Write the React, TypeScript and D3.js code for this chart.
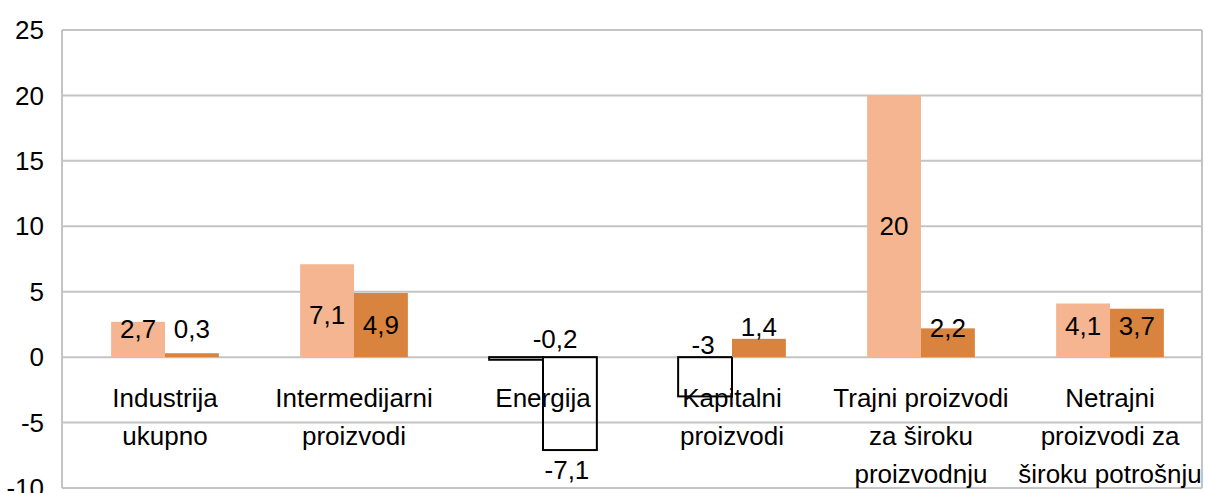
import React from "react";
import * as d3 from "d3";

const categories = [
  ["Industrija", "ukupno"],
  ["Intermedijarni", "proizvodi"],
  ["Energija"],
  ["Kapitalni", "proizvodi"],
  ["Trajni proizvodi", "za široku", "proizvodnju"],
  ["Netrajni", "proizvodi za", "široku potrošnju"],
];
const lightValues = [2.7, 7.1, -0.2, -3, 20, 4.1];
const darkValues = [0.3, 4.9, -7.1, 1.4, 2.2, 3.7];
const yTicks = [-10, -5, 0, 5, 10, 15, 20, 25];

// where each data label sits, in value units (hand placed like the source)
const lightLabelAt = [2.14, 3.2, 1.37, 0.92, 10, 2.37];
const darkLabelAt = [2.14, 2.45, -8.63, 2.3, 2.2, 2.37];
const lightLabelShift = [0, 0, 39, -2, 0, 0];
const darkLabelShift = [0, 0, -3, 0, 0, 0];

const W = 1205;
const H = 493;
const frame = { left: 62, right: 1202, top: 30, bottom: 488 };
const lightColor = "#F5B590";
const darkColor = "#D9843E";
const font = "'Liberation Sans Narrow', 'Liberation Sans', sans-serif";
const fmt = (v: number) => String(v).replace(".", ",");

export default function App() {
  const y = d3.scaleLinear().domain([-10, 25]).range([frame.bottom, frame.top]);
  const x0 = d3
    .scaleBand<number>()
    .domain(d3.range(categories.length))
    .range([70.5, 1204.5])
    .paddingInner(0.43)
    .paddingOuter(0.215);
  const x1 = d3
    .scaleBand<string>()
    .domain(["light", "dark"])
    .range([0, x0.bandwidth()]);

  // negative bars are drawn as outlines only, as in the source
  const bar = (i: number, key: string, v: number, color: string) => {
    const neg = v < 0;
    return (
      <rect
        key={key + i}
        x={(x0(i) ?? 0) + (x1(key) ?? 0)}
        y={Math.min(y(v), y(0))}
        width={x1.bandwidth()}
        height={Math.abs(y(v) - y(0))}
        fill={neg ? "none" : color}
        stroke={neg ? "#000000" : "none"}
        strokeWidth={neg ? 2 : 0}
      />
    );
  };

  const label = (i: number, key: string, v: number, at: number, dx: number) => (
    <text
      key={"l" + key + i}
      x={(x0(i) ?? 0) + (x1(key) ?? 0) + x1.bandwidth() / 2 + dx}
      y={y(at)}
      dy="0.35em"
      textAnchor="middle"
      fontSize={26}
      fill="#000"
    >
      {fmt(v)}
    </text>
  );

  return (
    <svg
      width={W}
      height={H}
      style={{ position: "absolute", left: 0, top: 0, background: "#fff" }}
      fontFamily={font}
    >
      <rect width={W} height={H} fill="#fff" />
      {yTicks.map(t => (
        <g key={t}>
          <line
            x1={frame.left}
            x2={frame.right}
            y1={y(t)}
            y2={y(t)}
            stroke="#C4C4C4"
            strokeWidth={2}
          />
          <text
            x={44}
            y={y(t)}
            dy="0.35em"
            textAnchor="end"
            fontSize={26}
            fill="#000"
          >
            {t}
          </text>
        </g>
      ))}
      <line x1={frame.left} x2={frame.left} y1={frame.top} y2={frame.bottom} stroke="#C4C4C4" strokeWidth={2} />
      <line x1={frame.right} x2={frame.right} y1={frame.top} y2={frame.bottom} stroke="#C4C4C4" strokeWidth={2} />
      {categories.map((lines, i) =>
        lines.map((s, k) => (
          <text
            key={"c" + i + k}
            x={(x0(i) ?? 0) + x0.bandwidth() / 2}
            y={398 + k * 38}
            dy="0.35em"
            textAnchor="middle"
            fontSize={26}
            fill="#000"
          >
            {s}
          </text>
        ))
      )}
      {lightValues.map((v, i) => bar(i, "light", v, lightColor))}
      {darkValues.map((v, i) => bar(i, "dark", v, darkColor))}
      {lightValues.map((v, i) => label(i, "light", v, lightLabelAt[i], lightLabelShift[i]))}
      {darkValues.map((v, i) => label(i, "dark", v, darkLabelAt[i], darkLabelShift[i]))}
    </svg>
  );
}
